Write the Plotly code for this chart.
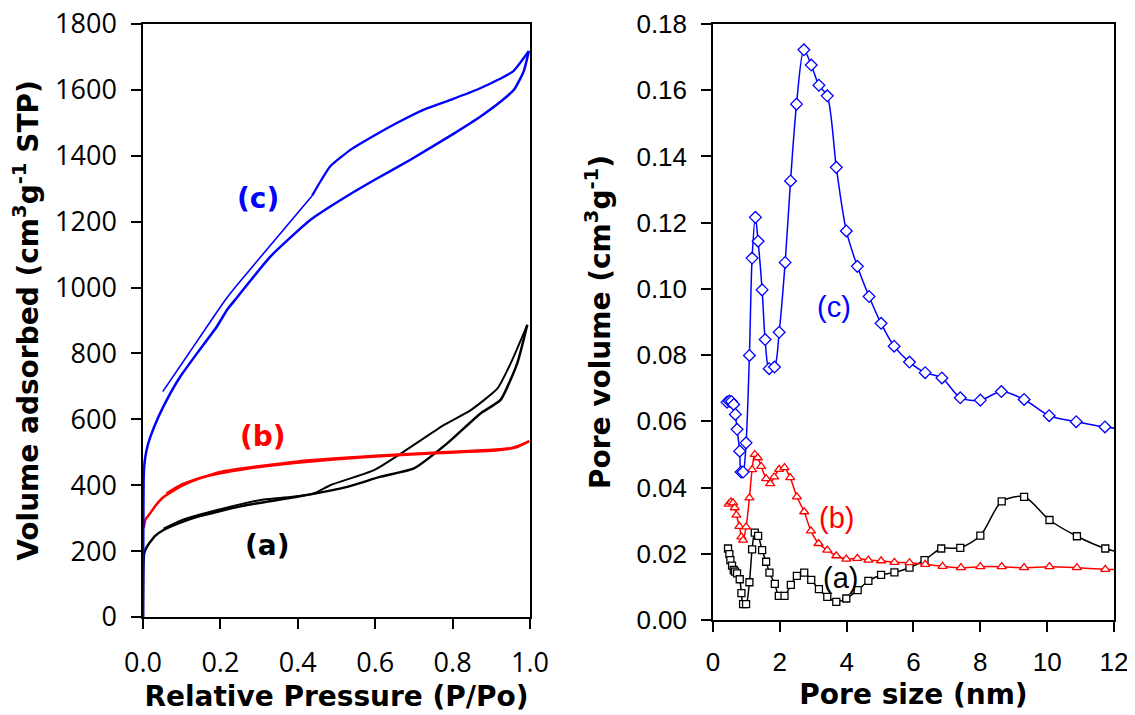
import plotly.graph_objects as go

# ---------------- Left panel: N2 isotherms ----------------
# (c) blue
p_c_ads = [0.0, 0.0005, 0.001, 0.0016, 0.003, 0.006, 0.012, 0.019, 0.04, 0.066, 0.0965, 0.14, 0.191, 0.217,
           0.243, 0.329, 0.433, 0.519, 0.6, 0.691, 0.8, 0.873, 0.93, 0.959, 0.984, 0.997]
v_c_ads = [0, 150, 300, 416, 455, 486, 520, 547, 608, 669, 730, 801, 882, 932,
           970, 1094, 1206, 1272, 1328, 1388, 1465, 1520, 1570, 1601, 1657, 1718]
p_c_des1 = [0.997, 0.957, 0.92, 0.864, 0.8, 0.726, 0.657, 0.6, 0.536, 0.484, 0.46, 0.437]
v_c_des1 = [1718, 1657, 1632, 1601, 1572, 1540, 1500, 1463, 1418, 1368, 1325, 1279]
p_c_des2 = [0.437, 0.35, 0.243, 0.213, 0.12, 0.051]
v_c_des2 = [1279, 1157, 1008, 963, 803, 684]

# (b) red
p_b_ads = [0.002, 0.004, 0.006, 0.01, 0.019, 0.035, 0.053, 0.1, 0.14, 0.2, 0.269, 0.398, 0.571, 0.743, 0.916, 0.967, 0.998]
v_b_ads = [270, 285, 295, 302, 316, 342, 364, 398, 418, 436, 450, 468, 485, 496, 506, 516, 534]
p_b_des = [0.998, 0.95, 0.8, 0.6, 0.4, 0.2, 0.1, 0.06]
v_b_des = [534, 513, 502, 490, 473, 441, 403, 375]

# (a) black
p_a_ads = [0.0, 0.001, 0.003, 0.01, 0.03, 0.053, 0.1, 0.14, 0.2, 0.269, 0.398, 0.528, 0.614, 0.70, 0.786,
           0.872, 0.924, 0.967, 0.993]
v_a_ads = [0, 150, 193, 213, 245, 264, 288, 304, 322, 340, 365, 395, 426, 451, 527, 618, 659, 770, 887]
p_a_des = [0.993, 0.95, 0.916, 0.847, 0.778, 0.674, 0.597, 0.484, 0.441, 0.38, 0.312, 0.2, 0.1, 0.053]
v_a_des = [887, 770, 694, 628, 583, 502, 446, 400, 375, 364, 357, 327, 294, 268]

# ---------------- Right panel: pore size distribution ----------------
d_c = [0.42, 0.49, 0.55, 0.62, 0.67, 0.72, 0.80, 0.84, 0.90, 0.99, 1.09, 1.17, 1.27, 1.35, 1.47, 1.56, 1.68,
       1.84, 1.98, 2.16, 2.32, 2.50, 2.72, 2.94, 3.17, 3.42, 3.69, 3.99, 4.32, 4.67, 5.03, 5.42, 5.88, 6.35,
       6.85, 7.40, 8.00, 8.63, 9.31, 10.06, 10.87, 11.73, 12.6]
pv_c = [0.0658, 0.0661, 0.0660, 0.0651, 0.0621, 0.0576, 0.0510, 0.0447, 0.0447, 0.0535, 0.0799, 0.1093,
        0.1216, 0.1144, 0.0997, 0.0847, 0.0759, 0.0764, 0.0869, 0.1080, 0.1326, 0.1558, 0.1722, 0.1676,
        0.1615, 0.1583, 0.1367, 0.1175, 0.1068, 0.0977, 0.0896, 0.0827, 0.0779, 0.0747, 0.0731, 0.0671,
        0.0664, 0.0690, 0.0666, 0.0617, 0.0599, 0.0583, 0.0573]

d_b = [0.47, 0.54, 0.60, 0.65, 0.70, 0.79, 0.85, 0.90, 0.99, 1.09, 1.17, 1.25, 1.34, 1.44, 1.59, 1.71, 1.83,
       1.98, 2.14, 2.31, 2.51, 2.73, 2.93, 3.16, 3.42, 3.69, 3.99, 4.32, 4.65, 5.03, 5.43, 5.88, 6.35, 6.87,
       7.42, 8.00, 8.64, 9.31, 10.07, 10.89, 11.74, 12.6]
pv_b = [0.0350, 0.0357, 0.0354, 0.0339, 0.0317, 0.0283, 0.0251, 0.0241, 0.0281, 0.0369, 0.0454, 0.0500,
        0.0490, 0.0464, 0.0427, 0.0412, 0.0432, 0.0455, 0.0460, 0.0430, 0.0372, 0.0327, 0.0269, 0.0231,
        0.0211, 0.0194, 0.0184, 0.0186, 0.0181, 0.0179, 0.0174, 0.0173, 0.0168, 0.0162, 0.0158, 0.0161,
        0.0161, 0.0158, 0.0161, 0.0158, 0.0153, 0.0151]

d_a = [0.45, 0.49, 0.52, 0.57, 0.62, 0.66, 0.72, 0.80, 0.85, 0.90, 0.99, 1.09, 1.17, 1.25, 1.35, 1.47, 1.59,
       1.69, 1.85, 1.97, 2.14, 2.33, 2.51, 2.73, 2.94, 3.17, 3.42, 3.69, 3.99, 4.33, 4.65, 5.03, 5.43, 5.88,
       6.33, 6.83, 7.40, 8.00, 8.64, 9.31, 10.07, 10.89, 11.74, 12.6]
pv_a = [0.0216, 0.0199, 0.0181, 0.0164, 0.0151, 0.0146, 0.0141, 0.0123, 0.0081, 0.0048, 0.0048, 0.0114,
        0.0213, 0.0264, 0.0254, 0.0211, 0.0176, 0.0143, 0.0109, 0.0073, 0.0073, 0.0106, 0.0133, 0.0143,
        0.0121, 0.0093, 0.0070, 0.0055, 0.0065, 0.0090, 0.0118, 0.0136, 0.0144, 0.0158, 0.0181, 0.0216,
        0.0218, 0.0255, 0.0358, 0.0372, 0.0302, 0.0253, 0.0216, 0.0195]

BLUE = "#0000FF"
RED = "#FF0000"
BLACK = "#000000"

fig = go.Figure()

def iso(x, y, color, w=2.5):
    fig.add_trace(go.Scatter(x=x, y=y, mode="lines", xaxis="x", yaxis="y",
                             line=dict(color=color, width=w, shape="spline", smoothing=0.5),
                             showlegend=False, hoverinfo="skip"))

iso(p_a_ads, v_a_ads, BLACK)
iso(p_a_des, v_a_des, BLACK, 2.0)
iso(p_b_ads, v_b_ads, RED)
iso(p_b_des, v_b_des, RED, 2.0)
iso(p_c_ads, v_c_ads, BLUE)
iso(p_c_des1, v_c_des1, BLUE, 2.3)
iso(p_c_des2, v_c_des2, BLUE, 1.6)

def psd(x, y, color, symbol, size):
    fig.add_trace(go.Scatter(x=x, y=y, mode="lines+markers", xaxis="x2", yaxis="y2",
                             line=dict(color=color, width=1.5, shape="spline", smoothing=0.8),
                             marker=dict(symbol=symbol, size=size, color="white",
                                         line=dict(color=color, width=1.3)),
                             showlegend=False, hoverinfo="skip"))

psd(d_a, pv_a, BLACK, "square", 7)
psd(d_b, pv_b, RED, "triangle-up", 8)
psd(d_c, pv_c, BLUE, "diamond", 9)

axis_common = dict(showline=True, linecolor="black", linewidth=1.5, mirror=True,
                   ticks="outside", ticklen=10, tickwidth=1.5, tickcolor="black",
                   showgrid=False, zeroline=False, automargin=False,
                   ticklabeloverflow="allow")

TITLE_FONT = dict(family="DejaVu Sans", size=28, color="black")
LEFT_TICK = dict(family="Open Sans", size=27, color="black")
RIGHT_TICK = dict(family="Liberation Sans", size=26, color="black")

fig.update_layout(
    width=1127, height=707,
    margin=dict(l=0, r=0, t=0, b=0),
    paper_bgcolor="white", plot_bgcolor="white",
    xaxis=dict(domain=[0.11979, 0.46318], range=[0, 1.0], dtick=0.2, tick0=0, tickformat=".1f",
               tickfont=LEFT_TICK, ticklabelstandoff=11,
               title=dict(text="<b>Relative Pressure (P/Po)</b>", font=TITLE_FONT, standoff=6),
               anchor="y", **axis_common),
    yaxis=dict(domain=[0.13861, 0.97737], range=[0, 1800], dtick=200, tick0=0,
               tickfont=LEFT_TICK, ticklabelstandoff=9,
               title=dict(text="<b>Volume adsorbed (cm<sup>3</sup>g<sup>-1</sup> STP)</b>", font=TITLE_FONT, standoff=9),
               anchor="x", **axis_common),
    xaxis2=dict(domain=[0.62555, 0.98136], range=[0, 12], dtick=2, tick0=0,
                tickfont=RIGHT_TICK, ticklabelstandoff=8,
                title=dict(text="<b>Pore size (nm)</b>", font=TITLE_FONT, standoff=8),
                anchor="y2", **axis_common),
    yaxis2=dict(domain=[0.13437, 0.97737], range=[0, 0.18], dtick=0.02, tick0=0, tickformat=".2f",
                tickfont=RIGHT_TICK, ticklabelstandoff=9,
                title=dict(text="<b>Pore volume (cm<sup>3</sup>g<sup>-1</sup>)</b>", font=TITLE_FONT, standoff=18),
                anchor="x2", **axis_common),
)

LBL_BOLD = dict(family="DejaVu Sans", size=28)
LBL_REG = dict(family="Liberation Sans", size=29)
labels = [
    ("x", "y", 0.296, 1270, "<b>(c)</b>", BLUE, LBL_BOLD),
    ("x", "y", 0.309, 549, "<b>(b)</b>", RED, LBL_BOLD),
    ("x", "y", 0.322, 218, "<b>(a)</b>", BLACK, LBL_BOLD),
    ("x2", "y2", 3.61, 0.0946, "(c)", BLUE, LBL_REG),
    ("x2", "y2", 3.71, 0.0307, "(b)", RED, LBL_REG),
    ("x2", "y2", 3.81, 0.0126, "(a)", BLACK, LBL_REG),
]
for xr, yr, x, y, t, c, f in labels:
    fig.add_annotation(xref=xr, yref=yr, x=x, y=y, text=t, showarrow=False,
                       font=dict(color=c, **f), xanchor="center", yanchor="middle")

fig.write_html("out.html")
